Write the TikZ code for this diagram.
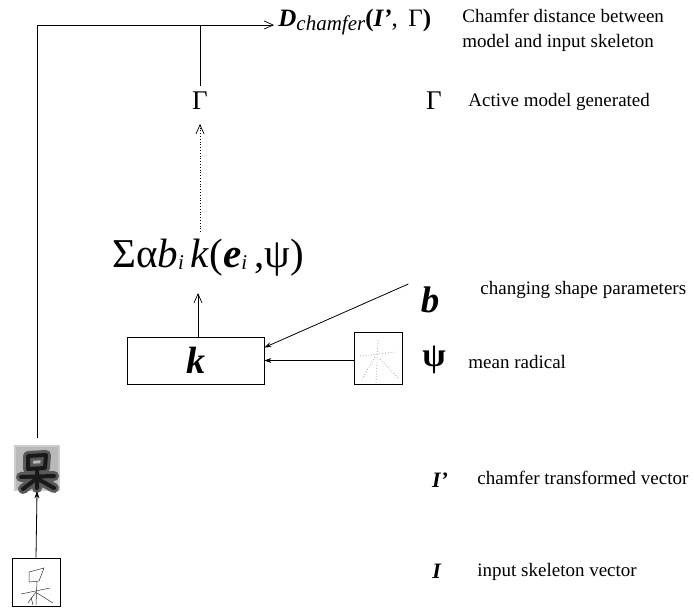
\documentclass[tikz,border=0pt]{standalone}
\usepackage{fontspec}
\setmainfont{Liberation Serif}
\usetikzlibrary{arrows.meta}
\begin{document}
\begin{tikzpicture}[x=1pt,y=-1pt,
  line width=0.8pt,
  open/.style={-{Straight Barb[length=9pt,width=8pt,line width=0.7pt]}},
  solidtip/.style={-{Stealth[length=7pt,width=5pt]}},
  lbl/.style={anchor=west,font=\fontsize{19}{25}\selectfont,inner sep=0pt,align=left},
  sym/.style={inner sep=0pt},
  imgbox/.style={draw,line width=0.6pt,minimum width=48pt,minimum height=48pt,inner sep=0pt},
  skel/.style={line width=0.5pt,black!80},
  radical/.style={line width=0.8pt,gray!70,dotted},
]
\useasboundingbox (0,0) rectangle (695,609);

% main nodes
\node[sym,anchor=base west] (D) at (278,27)
  {\fontsize{25}{25}\selectfont\textbf{\textit{D}}\raisebox{-4pt}{\fontsize{21}{21}\selectfont\textit{chamfer}}\textbf{(\textit{I’}}, \,Γ\textbf{)}};
\coordinate (corner) at (37,25);
\node[sym] (G) at (200,101) {\fontsize{27}{27}\selectfont Γ};
\node[sym] (S) at (208,258)
  {\fontsize{41}{41}\selectfont Σα\textit{b}\raisebox{-2pt}{\fontsize{21}{21}\selectfont\textit{i}}\,\textit{k}(\textbf{\textit{e}}\raisebox{-2pt}{\fontsize{21}{21}\selectfont\textit{i}}\,,ψ)};
\node[draw,line width=0.8pt,minimum width=137pt,minimum height=47pt,inner sep=0pt] (K) at (195.5,360.5)
  {\fontsize{38}{38}\selectfont\textbf{\textit{k}}};
\node[sym] (b) at (430,300) {\fontsize{37}{37}\selectfont\textbf{\textit{b}}};
\node[imgbox,minimum height=52pt] (P) at (378,358) {};
\node[imgbox,draw=none,minimum width=46pt,minimum height=46pt] (Ip) at (37,468) {};
\node[imgbox] (I) at (36,582) {};

% psi image content (dotted radical)
\draw[radical] (360,356) -- (396,352);
\draw[radical] (378,340) -- (376,383);
\draw[radical] (375,357) -- (362,379);
\draw[radical] (380,359) -- (398,378);

% blurred chamfer image
\begin{scope}
  \fill[gray!40] (14,445) rectangle (60,491);
  \fill[gray!55] (16,447) rectangle (58,489);
  \foreach \w/\c in {10/gray!70!black, 7/black!65, 4/black!90}{
    \draw[line width=\w pt,\c,line cap=round,line join=round]
      (28,456) -- (46,455) -- (45,468) -- (28,469) -- cycle
      (21,477) -- (54,476)
      (37,470) -- (37,488)
      (36,479) -- (23,489)
      (38,479) -- (54,488);
  }
\end{scope}

% skeleton image content
\draw[skel] (29,572) -- (44,568) -- (39,581) -- (29,582) -- cycle;
\draw[skel] (21,594) -- (50,588);
\draw[skel] (37,581) -- (36,605);
\draw[skel] (36,592) -- (28,603);
\draw[skel] (31,597) -- (33,605);
\draw[skel] (37,593) -- (53,603);

% connectors
\coordinate (ax) at (200,0);
\draw[open] ([yshift=7pt]Ip.north) -- (corner) -- ([xshift=-4pt]corner -| D.west);
\draw ([yshift=6pt]G.north) -- (G.north |- corner);
\draw[open,dotted] (ax |- 0,232) -- (ax |- 0,124);
\draw[open] ([xshift=2.5pt]K.north) -- ([xshift=2.5pt]K.north |- 0,293);
\draw[solidtip] ([xshift=-12pt,yshift=16pt]b.west) -- ([yshift=13pt]K.east);
\draw[solidtip] (P.west |- K.east) -- (K.east);
\draw[solidtip] (I.north) -- (Ip.south);

% right-hand legend
\node[lbl,anchor=north west] (t1) at (462,9) {Chamfer distance between\\model and input skeleton};
\node[sym] (G2) at (434,101) {\fontsize{27}{27}\selectfont Γ};
\node[lbl] (t2) at (468,102) {Active model generated};
\node[lbl] (t3) at (480,290) {changing shape parameters};
\node[sym] (psi) at (434,360) {\fontsize{34}{34}\selectfont\textbf{ψ}};
\node[lbl] (t4) at (468,362) {mean radical};
\node[sym] (Ipl) at (440,480) {\fontsize{22}{22}\selectfont\textbf{\textit{I’}}};
\node[lbl] (t5) at (477,478) {chamfer transformed vector};
\node[sym] (Il) at (437,571) {\fontsize{22}{22}\selectfont\textbf{\textit{I}}};
\node[lbl] (t6) at (477,572) {input skeleton vector};
\end{tikzpicture}
\end{document}
